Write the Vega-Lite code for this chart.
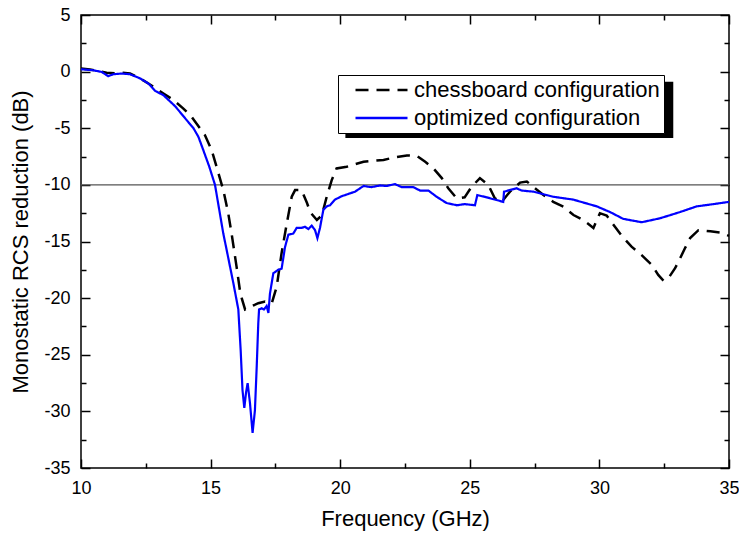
{
  "$schema": "https://vega.github.io/schema/vega-lite/v6.json",
  "width": 648,
  "height": 453,
  "autosize": {"type": "none"},
  "padding": {"left": 81, "top": 15, "right": 10, "bottom": 65},
  "background": "white",
  "config": {
    "font": "Liberation Sans",
    "view": {"stroke": "black", "strokeWidth": 1.5},
    "axis": {
      "labelFont": "Liberation Sans",
      "titleFont": "Liberation Sans",
      "labelFontSize": 18,
      "titleFontSize": 22,
      "titleFontWeight": "normal",
      "labelColor": "black",
      "titleColor": "black",
      "tickColor": "black",
      "tickWidth": 1.5,
      "labelFlush": false,
      "labelOverlap": false,
      "domain": false,
      "grid": false
    },
    "legend": {
      "labelFont": "Liberation Sans",
      "labelFontSize": 22,
      "labelColor": "black",
      "labelLimit": 0
    }
  },
  "datasets": {
    "curves": [
      {"f": 10.0, "r": 0.27, "c": "chessboard configuration"},
      {"f": 10.35, "r": 0.18, "c": "chessboard configuration"},
      {"f": 10.73, "r": 0.03, "c": "chessboard configuration"},
      {"f": 10.99, "r": -0.1, "c": "chessboard configuration"},
      {"f": 11.3, "r": -0.15, "c": "chessboard configuration"},
      {"f": 11.57, "r": -0.08, "c": "chessboard configuration"},
      {"f": 11.89, "r": -0.17, "c": "chessboard configuration"},
      {"f": 12.28, "r": -0.6, "c": "chessboard configuration"},
      {"f": 12.6, "r": -1.05, "c": "chessboard configuration"},
      {"f": 12.9, "r": -1.5, "c": "chessboard configuration"},
      {"f": 13.18, "r": -1.93, "c": "chessboard configuration"},
      {"f": 13.56, "r": -2.5, "c": "chessboard configuration"},
      {"f": 13.95, "r": -3.26, "c": "chessboard configuration"},
      {"f": 14.27, "r": -4.0, "c": "chessboard configuration"},
      {"f": 14.59, "r": -5.0, "c": "chessboard configuration"},
      {"f": 14.78, "r": -5.6, "c": "chessboard configuration"},
      {"f": 15.04, "r": -6.93, "c": "chessboard configuration"},
      {"f": 15.23, "r": -8.4, "c": "chessboard configuration"},
      {"f": 15.49, "r": -10.46, "c": "chessboard configuration"},
      {"f": 15.68, "r": -12.5, "c": "chessboard configuration"},
      {"f": 15.81, "r": -14.3, "c": "chessboard configuration"},
      {"f": 16.0, "r": -17.2, "c": "chessboard configuration"},
      {"f": 16.13, "r": -19.3, "c": "chessboard configuration"},
      {"f": 16.2, "r": -20.0, "c": "chessboard configuration"},
      {"f": 16.33, "r": -21.0, "c": "chessboard configuration"},
      {"f": 16.6, "r": -20.7, "c": "chessboard configuration"},
      {"f": 16.84, "r": -20.45, "c": "chessboard configuration"},
      {"f": 17.1, "r": -20.3, "c": "chessboard configuration"},
      {"f": 17.36, "r": -20.45, "c": "chessboard configuration"},
      {"f": 17.55, "r": -19.0, "c": "chessboard configuration"},
      {"f": 17.74, "r": -16.0, "c": "chessboard configuration"},
      {"f": 17.94, "r": -13.4, "c": "chessboard configuration"},
      {"f": 18.13, "r": -11.05, "c": "chessboard configuration"},
      {"f": 18.26, "r": -10.46, "c": "chessboard configuration"},
      {"f": 18.51, "r": -10.46, "c": "chessboard configuration"},
      {"f": 18.72, "r": -11.6, "c": "chessboard configuration"},
      {"f": 18.84, "r": -12.4, "c": "chessboard configuration"},
      {"f": 19.1, "r": -13.1, "c": "chessboard configuration"},
      {"f": 19.29, "r": -12.7, "c": "chessboard configuration"},
      {"f": 19.48, "r": -11.05, "c": "chessboard configuration"},
      {"f": 19.67, "r": -9.6, "c": "chessboard configuration"},
      {"f": 19.86, "r": -8.55, "c": "chessboard configuration"},
      {"f": 20.25, "r": -8.4, "c": "chessboard configuration"},
      {"f": 20.9, "r": -7.96, "c": "chessboard configuration"},
      {"f": 21.67, "r": -7.8, "c": "chessboard configuration"},
      {"f": 22.05, "r": -7.6, "c": "chessboard configuration"},
      {"f": 22.57, "r": -7.4, "c": "chessboard configuration"},
      {"f": 22.96, "r": -7.45, "c": "chessboard configuration"},
      {"f": 23.28, "r": -7.96, "c": "chessboard configuration"},
      {"f": 23.6, "r": -8.55, "c": "chessboard configuration"},
      {"f": 23.92, "r": -9.4, "c": "chessboard configuration"},
      {"f": 24.17, "r": -10.3, "c": "chessboard configuration"},
      {"f": 24.5, "r": -11.2, "c": "chessboard configuration"},
      {"f": 24.8, "r": -11.1, "c": "chessboard configuration"},
      {"f": 25.07, "r": -10.17, "c": "chessboard configuration"},
      {"f": 25.39, "r": -9.4, "c": "chessboard configuration"},
      {"f": 25.71, "r": -10.0, "c": "chessboard configuration"},
      {"f": 25.97, "r": -11.2, "c": "chessboard configuration"},
      {"f": 26.23, "r": -11.5, "c": "chessboard configuration"},
      {"f": 26.55, "r": -10.6, "c": "chessboard configuration"},
      {"f": 26.94, "r": -9.8, "c": "chessboard configuration"},
      {"f": 27.2, "r": -9.7, "c": "chessboard configuration"},
      {"f": 27.45, "r": -10.17, "c": "chessboard configuration"},
      {"f": 27.84, "r": -10.9, "c": "chessboard configuration"},
      {"f": 28.22, "r": -11.5, "c": "chessboard configuration"},
      {"f": 28.61, "r": -11.93, "c": "chessboard configuration"},
      {"f": 29.0, "r": -12.66, "c": "chessboard configuration"},
      {"f": 29.38, "r": -13.1, "c": "chessboard configuration"},
      {"f": 29.77, "r": -13.8, "c": "chessboard configuration"},
      {"f": 30.02, "r": -12.5, "c": "chessboard configuration"},
      {"f": 30.28, "r": -12.7, "c": "chessboard configuration"},
      {"f": 30.6, "r": -13.7, "c": "chessboard configuration"},
      {"f": 30.86, "r": -14.5, "c": "chessboard configuration"},
      {"f": 31.24, "r": -15.46, "c": "chessboard configuration"},
      {"f": 31.63, "r": -16.2, "c": "chessboard configuration"},
      {"f": 32.02, "r": -17.07, "c": "chessboard configuration"},
      {"f": 32.27, "r": -17.95, "c": "chessboard configuration"},
      {"f": 32.47, "r": -18.45, "c": "chessboard configuration"},
      {"f": 32.66, "r": -18.25, "c": "chessboard configuration"},
      {"f": 32.92, "r": -17.36, "c": "chessboard configuration"},
      {"f": 33.11, "r": -16.5, "c": "chessboard configuration"},
      {"f": 33.3, "r": -15.6, "c": "chessboard configuration"},
      {"f": 33.5, "r": -14.7, "c": "chessboard configuration"},
      {"f": 33.82, "r": -14.0, "c": "chessboard configuration"},
      {"f": 34.28, "r": -14.1, "c": "chessboard configuration"},
      {"f": 34.65, "r": -14.2, "c": "chessboard configuration"},
      {"f": 35.0, "r": -14.5, "c": "chessboard configuration"},
      {"f": 10.0, "r": 0.21, "c": "optimized configuration"},
      {"f": 10.47, "r": 0.12, "c": "optimized configuration"},
      {"f": 10.8, "r": -0.03, "c": "optimized configuration"},
      {"f": 11.05, "r": -0.4, "c": "optimized configuration"},
      {"f": 11.25, "r": -0.23, "c": "optimized configuration"},
      {"f": 11.57, "r": -0.17, "c": "optimized configuration"},
      {"f": 11.89, "r": -0.23, "c": "optimized configuration"},
      {"f": 12.28, "r": -0.6, "c": "optimized configuration"},
      {"f": 12.6, "r": -1.05, "c": "optimized configuration"},
      {"f": 12.86, "r": -1.7, "c": "optimized configuration"},
      {"f": 13.18, "r": -2.08, "c": "optimized configuration"},
      {"f": 13.63, "r": -3.05, "c": "optimized configuration"},
      {"f": 14.08, "r": -4.29, "c": "optimized configuration"},
      {"f": 14.34, "r": -5.0, "c": "optimized configuration"},
      {"f": 14.53, "r": -5.76, "c": "optimized configuration"},
      {"f": 14.72, "r": -6.94, "c": "optimized configuration"},
      {"f": 14.95, "r": -8.4, "c": "optimized configuration"},
      {"f": 15.17, "r": -10.0, "c": "optimized configuration"},
      {"f": 15.49, "r": -14.3, "c": "optimized configuration"},
      {"f": 15.62, "r": -15.75, "c": "optimized configuration"},
      {"f": 15.88, "r": -18.7, "c": "optimized configuration"},
      {"f": 16.07, "r": -21.0, "c": "optimized configuration"},
      {"f": 16.16, "r": -24.6, "c": "optimized configuration"},
      {"f": 16.23, "r": -28.1, "c": "optimized configuration"},
      {"f": 16.3, "r": -29.7, "c": "optimized configuration"},
      {"f": 16.37, "r": -28.3, "c": "optimized configuration"},
      {"f": 16.43, "r": -27.5, "c": "optimized configuration"},
      {"f": 16.52, "r": -29.3, "c": "optimized configuration"},
      {"f": 16.62, "r": -31.9, "c": "optimized configuration"},
      {"f": 16.71, "r": -29.9, "c": "optimized configuration"},
      {"f": 16.78, "r": -26.0, "c": "optimized configuration"},
      {"f": 16.84, "r": -22.2, "c": "optimized configuration"},
      {"f": 16.87, "r": -21.0, "c": "optimized configuration"},
      {"f": 16.97, "r": -20.9, "c": "optimized configuration"},
      {"f": 17.06, "r": -21.0, "c": "optimized configuration"},
      {"f": 17.16, "r": -20.7, "c": "optimized configuration"},
      {"f": 17.23, "r": -21.3, "c": "optimized configuration"},
      {"f": 17.29, "r": -19.6, "c": "optimized configuration"},
      {"f": 17.42, "r": -17.8, "c": "optimized configuration"},
      {"f": 17.61, "r": -17.5, "c": "optimized configuration"},
      {"f": 17.74, "r": -17.4, "c": "optimized configuration"},
      {"f": 17.87, "r": -15.5, "c": "optimized configuration"},
      {"f": 18.0, "r": -14.4, "c": "optimized configuration"},
      {"f": 18.19, "r": -14.3, "c": "optimized configuration"},
      {"f": 18.32, "r": -13.8, "c": "optimized configuration"},
      {"f": 18.51, "r": -13.8, "c": "optimized configuration"},
      {"f": 18.64, "r": -13.7, "c": "optimized configuration"},
      {"f": 18.77, "r": -13.9, "c": "optimized configuration"},
      {"f": 18.9, "r": -13.6, "c": "optimized configuration"},
      {"f": 19.03, "r": -14.0, "c": "optimized configuration"},
      {"f": 19.12, "r": -14.7, "c": "optimized configuration"},
      {"f": 19.22, "r": -13.8, "c": "optimized configuration"},
      {"f": 19.35, "r": -12.2, "c": "optimized configuration"},
      {"f": 19.48, "r": -11.9, "c": "optimized configuration"},
      {"f": 19.61, "r": -11.8, "c": "optimized configuration"},
      {"f": 19.8, "r": -11.3, "c": "optimized configuration"},
      {"f": 20.06, "r": -11.0, "c": "optimized configuration"},
      {"f": 20.38, "r": -10.75, "c": "optimized configuration"},
      {"f": 20.57, "r": -10.6, "c": "optimized configuration"},
      {"f": 20.9, "r": -10.1, "c": "optimized configuration"},
      {"f": 21.2, "r": -10.2, "c": "optimized configuration"},
      {"f": 21.54, "r": -10.05, "c": "optimized configuration"},
      {"f": 21.79, "r": -10.1, "c": "optimized configuration"},
      {"f": 22.11, "r": -9.93, "c": "optimized configuration"},
      {"f": 22.37, "r": -10.2, "c": "optimized configuration"},
      {"f": 22.82, "r": -10.2, "c": "optimized configuration"},
      {"f": 23.08, "r": -10.5, "c": "optimized configuration"},
      {"f": 23.4, "r": -10.5, "c": "optimized configuration"},
      {"f": 23.72, "r": -11.05, "c": "optimized configuration"},
      {"f": 24.1, "r": -11.6, "c": "optimized configuration"},
      {"f": 24.5, "r": -11.8, "c": "optimized configuration"},
      {"f": 24.8, "r": -11.7, "c": "optimized configuration"},
      {"f": 25.2, "r": -11.8, "c": "optimized configuration"},
      {"f": 25.29, "r": -10.9, "c": "optimized configuration"},
      {"f": 25.65, "r": -11.1, "c": "optimized configuration"},
      {"f": 26.29, "r": -11.5, "c": "optimized configuration"},
      {"f": 26.32, "r": -10.6, "c": "optimized configuration"},
      {"f": 26.8, "r": -10.3, "c": "optimized configuration"},
      {"f": 27.0, "r": -10.5, "c": "optimized configuration"},
      {"f": 27.45, "r": -10.6, "c": "optimized configuration"},
      {"f": 27.97, "r": -10.9, "c": "optimized configuration"},
      {"f": 28.22, "r": -11.05, "c": "optimized configuration"},
      {"f": 28.99, "r": -11.3, "c": "optimized configuration"},
      {"f": 29.9, "r": -11.9, "c": "optimized configuration"},
      {"f": 30.41, "r": -12.4, "c": "optimized configuration"},
      {"f": 30.92, "r": -13.0, "c": "optimized configuration"},
      {"f": 31.63, "r": -13.3, "c": "optimized configuration"},
      {"f": 32.34, "r": -12.95, "c": "optimized configuration"},
      {"f": 33.11, "r": -12.4, "c": "optimized configuration"},
      {"f": 33.75, "r": -11.9, "c": "optimized configuration"},
      {"f": 34.4, "r": -11.7, "c": "optimized configuration"},
      {"f": 35.0, "r": -11.5, "c": "optimized configuration"}
    ]
  },
  "layer": [
    {
      "data": {"values": [{"x1": 20.2, "x2": 32.85, "y1": -0.9, "y2": -5.87}]},
      "mark": {"type": "rect", "color": "black"},
      "encoding": {
        "x": {"field": "x1", "type": "quantitative", "scale": {"domain": [10, 35], "nice": false, "zero": false},
          "axis": {"orient": "bottom", "values": [12.5, 17.5, 22.5, 27.5, 32.5], "tickSize": -5, "labels": false, "title": null}},
        "x2": {"field": "x2"},
        "y": {"field": "y1", "type": "quantitative", "scale": {"domain": [-35, 5], "nice": false, "zero": false},
          "axis": {"orient": "left", "values": [2.5, -2.5, -7.5, -12.5, -17.5, -22.5, -27.5, -32.5], "tickSize": -5, "labels": false, "title": null}},
        "y2": {"field": "y2"}
      }
    },
    {
      "data": {"values": [{"y": -10}]},
      "mark": {"type": "rule", "color": "#555555", "strokeWidth": 1.2},
      "encoding": {
        "y": {"field": "y", "type": "quantitative",
          "axis": {"orient": "right", "values": [2.5, -2.5, -7.5, -12.5, -17.5, -22.5, -27.5, -32.5], "tickSize": -5, "labels": false, "title": null}},
        "x": {"datum": 10, "type": "quantitative",
          "axis": {"orient": "top", "values": [12.5, 17.5, 22.5, 27.5, 32.5], "tickSize": -5, "labels": false, "title": null}},
        "x2": {"datum": 35}
      }
    },
    {
      "data": {"name": "curves"},
      "transform": [{"filter": "datum.c == 'chessboard configuration'"}],
      "mark": {"type": "line", "strokeWidth": 2.5},
      "encoding": {
        "x": {"field": "f", "type": "quantitative",
          "axis": {"orient": "bottom", "values": [10, 15, 20, 25, 30, 35], "tickSize": -9, "labelPadding": 20, "title": "Frequency (GHz)", "titlePadding": 11, "labelExpr": "'' + datum.value"}},
        "y": {"field": "r", "type": "quantitative",
          "axis": {"orient": "left", "values": [5, 0, -5, -10, -15, -20, -25, -30, -35], "tickSize": -9, "labelPadding": 20, "title": "Monostatic RCS reduction (dB)", "titlePadding": 11, "labelExpr": "'' + datum.value"}},
        "color": {"field": "c", "type": "nominal",
          "scale": {"domain": ["chessboard configuration", "optimized configuration"], "range": ["black", "#0000ff"]},
          "legend": {"orient": "none", "legendX": 257, "legendY": 60, "title": null, "symbolType": "stroke", "symbolSize": 2704, "symbolStrokeWidth": 2.5, "symbolOffset": 12, "clipHeight": 22, "rowPadding": 6, "labelOffset": 5, "padding": 4, "fillColor": "white", "strokeColor": "black"}},
        "strokeDash": {"field": "c", "type": "nominal",
          "scale": {"domain": ["chessboard configuration", "optimized configuration"], "range": [[13, 8], [1, 0]]},
          "legend": {"orient": "none", "legendX": 257, "legendY": 60, "title": null, "symbolType": "stroke", "symbolSize": 2704, "symbolStrokeWidth": 2.5, "symbolOffset": 12, "clipHeight": 22, "rowPadding": 6, "labelOffset": 5, "padding": 4, "fillColor": "white", "strokeColor": "black"}}
      }
    },
    {
      "data": {"name": "curves"},
      "transform": [{"filter": "datum.c == 'optimized configuration'"}],
      "mark": {"type": "line", "strokeWidth": 2.2},
      "encoding": {
        "x": {"field": "f", "type": "quantitative",
          "axis": {"orient": "top", "values": [10, 15, 20, 25, 30, 35], "tickSize": -9, "labels": false, "title": null}},
        "y": {"field": "r", "type": "quantitative",
          "axis": {"orient": "right", "values": [5, 0, -5, -10, -15, -20, -25, -30, -35], "tickSize": -9, "labels": false, "title": null}},
        "color": {"field": "c", "type": "nominal"},
        "strokeDash": {"field": "c", "type": "nominal"}
      }
    }
  ],
  "resolve": {"axis": {"x": "independent", "y": "independent"}}
}
